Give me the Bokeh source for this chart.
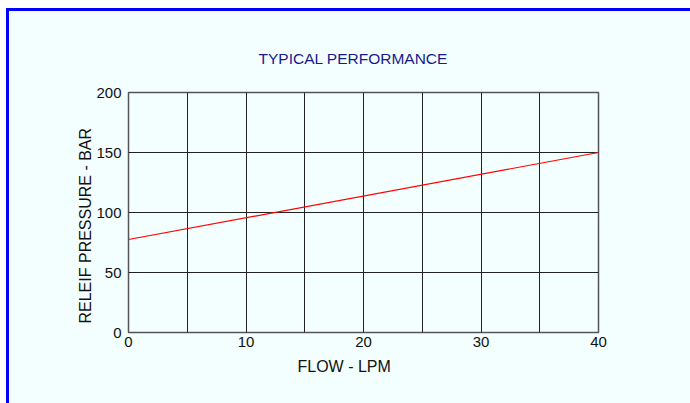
from bokeh.plotting import figure
from bokeh.models import Range1d, FixedTicker, Title
from bokeh.embed import file_html
from bokeh.resources import INLINE

# Data
flow_lpm = [0, 40]
relief_bar = [77.5, 150]
x_ticks = [0, 10, 20, 30, 40]
x_grid = [0, 5, 10, 15, 20, 25, 30, 35, 40]
y_ticks = [0, 50, 100, 150, 200]

title_text = "TYPICAL PERFORMANCE"
x_label = "FLOW - LPM"
y_label = "RELEIF PRESSURE - BAR"

BG = "#f3feff"
FONT = "Liberation Sans"

p = figure(
    width=681, height=392,
    x_range=Range1d(0, 40), y_range=Range1d(0, 200),
    output_backend="svg", toolbar_location=None,
    min_border_left=119, min_border_right=92,
    min_border_top=81, min_border_bottom=71,
    frame_width=470, frame_height=240,
)
p.styles = {"margin-top": "8px", "margin-left": "6px",
            "border-top": "3px solid #0000ff", "border-left": "3px solid #0000ff",
            "background-color": BG}
p.background_fill_color = BG
p.border_fill_color = BG
p.outline_line_color = "#555555"
p.outline_line_width = 1.5

for ax in (p.xaxis[0], p.yaxis[0]):
    ax.axis_line_color = None
    ax.major_tick_line_color = None
    ax.minor_tick_line_color = None
    ax.major_tick_in = 0
    ax.major_tick_out = 0
    ax.minor_tick_in = 0
    ax.minor_tick_out = 0
    ax.major_label_text_font = FONT
    ax.major_label_text_font_size = "15px"
    ax.major_label_text_color = "#111111"

p.xaxis.ticker = FixedTicker(ticks=x_ticks)
p.yaxis.ticker = FixedTicker(ticks=y_ticks)
p.xaxis.major_label_standoff = 4
p.yaxis.major_label_standoff = 7

p.xgrid.ticker = FixedTicker(ticks=x_grid)
p.ygrid.ticker = FixedTicker(ticks=y_ticks)
for g in (p.xgrid[0], p.ygrid[0]):
    g.grid_line_color = "#222222"
    g.grid_line_width = 1
    g.grid_line_alpha = 1

p.line(flow_lpm, relief_bar, line_color="#ff0000", line_width=1.2)

# Title and axis labels
p.title.text = title_text
p.title.text_font = FONT
p.title.text_font_size = "15.5px"
p.title.text_font_style = "normal"
p.title.text_color = "#1a1a8c"
p.title.align = "left"
p.title.offset = 130
p.title.standoff = 52

p.add_layout(Title(text=x_label, align="left", offset=169, standoff=12,
                   text_font=FONT, text_font_size="16px", text_font_style="normal",
                   text_color="#111111"), "below")
p.add_layout(Title(text=y_label, align="left", offset=9, standoff=0,
                   text_font=FONT, text_font_size="16px", text_font_style="normal",
                   text_color="#111111"), "left")

open("out.html", "w").write(file_html(p, INLINE))
